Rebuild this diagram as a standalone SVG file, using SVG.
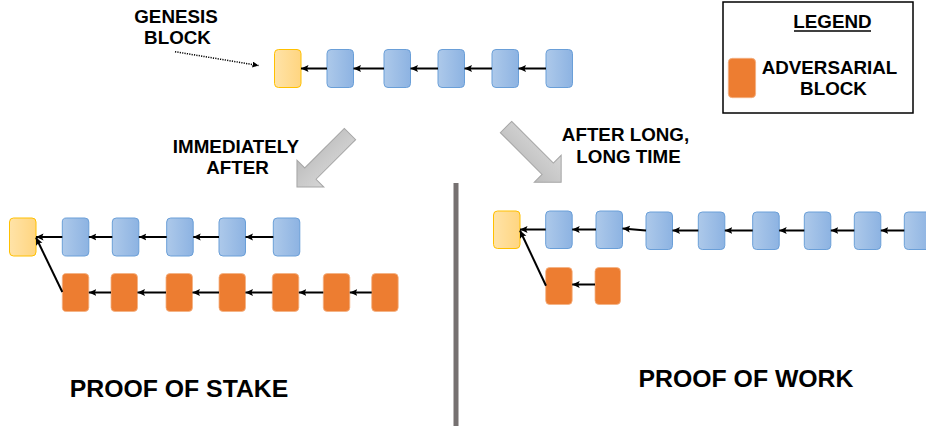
<svg xmlns="http://www.w3.org/2000/svg" width="926" height="428" viewBox="0 0 926 428">
  <defs>
    <linearGradient id="gBlue" x1="0" y1="0" x2="1" y2="0">
      <stop offset="0" stop-color="#ADC9EA"/>
      <stop offset="1" stop-color="#8DB3E2"/>
    </linearGradient>
    <linearGradient id="gGold" x1="0" y1="0" x2="1" y2="0">
      <stop offset="0" stop-color="#FFE3A8"/>
      <stop offset="1" stop-color="#FFD580"/>
    </linearGradient>
    <linearGradient id="gGrey" x1="0" y1="0" x2="0" y2="1">
      <stop offset="0" stop-color="#D6D6D6"/>
      <stop offset="1" stop-color="#BDBDBD"/>
    </linearGradient>
    <marker id="ah" markerUnits="userSpaceOnUse" markerWidth="9" markerHeight="9" refX="7.5" refY="4" orient="auto">
      <path d="M0,0.5 L7.5,4 L0,7.5 L1.5,4 z" fill="#000"/>
    </marker>
    <marker id="ahs" markerUnits="userSpaceOnUse" markerWidth="7" markerHeight="7" refX="6" refY="3" orient="auto">
      <path d="M0,0 L6,3 L0,6 z" fill="#000"/>
    </marker>
  </defs>
  <style>
    .b { fill: url(#gBlue); stroke: #6A9FD8; stroke-width: 1; }
    .g { fill: url(#gGold); stroke: #FFC000; stroke-width: 1; }
    .o { fill: #ED7D31; stroke: #F4B183; stroke-width: 0.8; }
    .c { stroke: #000; stroke-width: 2; fill: none; marker-end: url(#ah); }
    .t { font-family: "Liberation Sans", Arial, sans-serif; font-weight: bold; fill: #000; text-anchor: middle; }
    .s { font-size: 18.8px; }
    .l { font-size: 24.8px; }
    .ga { fill: url(#gGrey); stroke: #A6A6A6; stroke-width: 1; }
  </style>

  <rect width="926" height="428" fill="#fff"/>

  <!-- Top chain -->
  <g id="top-genesis"><rect class="g" x="274.5" y="49.5" width="26.5" height="38" rx="4"/></g>
  <g id="top-b1"><rect class="b" x="327" y="49.5" width="26.5" height="38" rx="4"/></g>
  <g id="top-b2"><rect class="b" x="384" y="49.5" width="26.5" height="38" rx="4"/></g>
  <g id="top-b3"><rect class="b" x="438" y="49.5" width="26.5" height="38" rx="4"/></g>
  <g id="top-b4"><rect class="b" x="492" y="49.5" width="26.5" height="38" rx="4"/></g>
  <g id="top-b5"><rect class="b" x="546" y="49.5" width="26.5" height="38" rx="4"/></g>

  <g id="genesis-label">
    <text class="t s" x="176" y="22.5">GENESIS</text>
    <text class="t s" x="177.5" y="43.5">BLOCK</text>
  </g>

  <!-- Legend -->
  <g id="legend">
    <rect x="723" y="2" width="190" height="111" fill="#fff" stroke="#000" stroke-width="1.5"/>
    <text class="t s" x="832.5" y="28">LEGEND</text>
    <line x1="794" y1="31" x2="871" y2="31" stroke="#000" stroke-width="1.5"/>
    <rect class="o" x="728.3" y="58.3" width="27.3" height="39.4" rx="4"/>
    <text class="t s" x="829.5" y="74">ADVERSARIAL</text>
    <text class="t s" x="833.5" y="95">BLOCK</text>
  </g>

  <!-- Transition arrows -->
  <g id="arrow-pos"><polygon class="ga" points="0,-8 56,-8 56,-19 75,0 56,19 56,8 0,8" transform="translate(350,134) rotate(135)"/></g>
  <g id="arrow-pow"><polygon class="ga" points="0,-8 59,-8 59,-19 78,0 59,19 59,8 0,8" transform="translate(506,127) rotate(45)"/></g>
  <g id="label-immediately">
    <text class="t s" x="236" y="153">IMMEDIATELY</text>
    <text class="t s" x="237.5" y="174">AFTER</text>
  </g>
  <g id="label-long">
    <text class="t s" x="625.5" y="141">AFTER LONG,</text>
    <text class="t s" x="628.5" y="162.5">LONG TIME</text>
  </g>

  <!-- Divider -->
  <g id="divider"><rect x="453.5" y="183" width="5" height="243" fill="#767171"/></g>

  <!-- PoS -->
  <g id="pos-genesis"><rect class="g" x="9.5" y="218" width="26.5" height="38" rx="4"/></g>
  <g id="pos-b1"><rect class="b" x="62.3" y="218" width="26.5" height="38" rx="4"/></g>
  <g id="pos-b2"><rect class="b" x="112.3" y="218" width="26.5" height="38" rx="4"/></g>
  <g id="pos-b3"><rect class="b" x="166.7" y="218" width="26.5" height="38" rx="4"/></g>
  <g id="pos-b4"><rect class="b" x="219" y="218" width="26.5" height="38" rx="4"/></g>
  <g id="pos-b5"><rect class="b" x="273.3" y="218" width="26.5" height="38" rx="4"/></g>
  <g id="pos-o1"><rect class="o" x="62.3" y="273.5" width="26.5" height="38" rx="4"/></g>
  <g id="pos-o2"><rect class="o" x="111" y="273.5" width="26.5" height="38" rx="4"/></g>
  <g id="pos-o3"><rect class="o" x="166" y="273.5" width="26.5" height="38" rx="4"/></g>
  <g id="pos-o4"><rect class="o" x="219" y="273.5" width="26.5" height="38" rx="4"/></g>
  <g id="pos-o5"><rect class="o" x="272.3" y="273.5" width="26.5" height="38" rx="4"/></g>
  <g id="pos-o6"><rect class="o" x="323.3" y="273.5" width="26.5" height="38" rx="4"/></g>
  <g id="pos-o7"><rect class="o" x="371.7" y="273.5" width="26.5" height="38" rx="4"/></g>
  <g id="pos-label"><text class="t l" x="179" y="397">PROOF OF STAKE</text></g>

  <!-- PoW -->
  <g id="pow-genesis"><rect class="g" x="493.5" y="211" width="26.5" height="37.5" rx="4"/></g>
  <g id="pow-b1"><rect class="b" x="545.7" y="211" width="26.5" height="37.5" rx="4"/></g>
  <g id="pow-b2"><rect class="b" x="596" y="211" width="26.5" height="37.5" rx="4"/></g>
  <g id="pow-b3"><rect class="b" x="646" y="212" width="26.5" height="37.5" rx="4"/></g>
  <g id="pow-b4"><rect class="b" x="698.3" y="212" width="26.5" height="37.5" rx="4"/></g>
  <g id="pow-b5"><rect class="b" x="752.7" y="212" width="26.5" height="37.5" rx="4"/></g>
  <g id="pow-b6"><rect class="b" x="804.3" y="212" width="26.5" height="37.5" rx="4"/></g>
  <g id="pow-b7"><rect class="b" x="854.3" y="212" width="26.5" height="37.5" rx="4"/></g>
  <g id="pow-b8"><rect class="b" x="904.3" y="212" width="26.5" height="37.5" rx="4"/></g>
  <g id="pow-o1"><rect class="o" x="545.7" y="267.5" width="26.5" height="37" rx="4"/></g>
  <g id="pow-o2"><rect class="o" x="595" y="267.5" width="25.5" height="37" rx="4"/></g>
  <g id="pow-label"><text class="t l" x="746" y="386.5">PROOF OF WORK</text></g>

  <!-- Connectors -->
  <g id="connectors">
    <line x1="175" y1="51.7" x2="258.5" y2="65.5" stroke="#000" stroke-width="1.5" stroke-dasharray="1.2 1.2" marker-end="url(#ahs)"/>
    <line class="c" x1="327" y1="68.5" x2="301" y2="68.5"/>
    <line class="c" x1="384" y1="68.5" x2="353.5" y2="68.5"/>
    <line class="c" x1="438" y1="68.5" x2="410.5" y2="68.5"/>
    <line class="c" x1="492" y1="68.5" x2="464.5" y2="68.5"/>
    <line class="c" x1="546" y1="68.5" x2="518.5" y2="68.5"/>

    <line class="c" x1="62.3" y1="237" x2="36" y2="237"/>
    <line class="c" x1="112.3" y1="237" x2="88.8" y2="237"/>
    <line class="c" x1="166.7" y1="237" x2="138.8" y2="237"/>
    <line class="c" x1="219" y1="237" x2="193.2" y2="237"/>
    <line class="c" x1="273.3" y1="237" x2="245.5" y2="237"/>
    <line class="c" x1="62.3" y1="292" x2="36" y2="237.5"/>
    <line class="c" x1="111" y1="292.5" x2="88.8" y2="292.5"/>
    <line class="c" x1="166" y1="292.5" x2="137.5" y2="292.5"/>
    <line class="c" x1="219" y1="292.5" x2="192.5" y2="292.5"/>
    <line class="c" x1="272.3" y1="292.5" x2="245.5" y2="292.5"/>
    <line class="c" x1="323.3" y1="292.5" x2="298.8" y2="292.5"/>
    <line class="c" x1="371.7" y1="292.5" x2="349.8" y2="292.5"/>

    <line class="c" x1="545.7" y1="229.5" x2="520" y2="229.5"/>
    <line class="c" x1="596" y1="229.5" x2="572.2" y2="229.5"/>
    <line class="c" x1="646" y1="230.5" x2="622.5" y2="228.5"/>
    <line class="c" x1="698.3" y1="230.5" x2="672.5" y2="230.5"/>
    <line class="c" x1="752.7" y1="230.5" x2="724.8" y2="230.5"/>
    <line class="c" x1="804.3" y1="230.5" x2="779.2" y2="230.5"/>
    <line class="c" x1="854.3" y1="230.5" x2="830.8" y2="230.5"/>
    <line class="c" x1="904.3" y1="230.5" x2="880.8" y2="230.5"/>
    <line class="c" x1="546" y1="285.7" x2="520" y2="230.5"/>
    <line class="c" x1="595" y1="284.5" x2="572.2" y2="284.5"/>
  </g>
</svg>
